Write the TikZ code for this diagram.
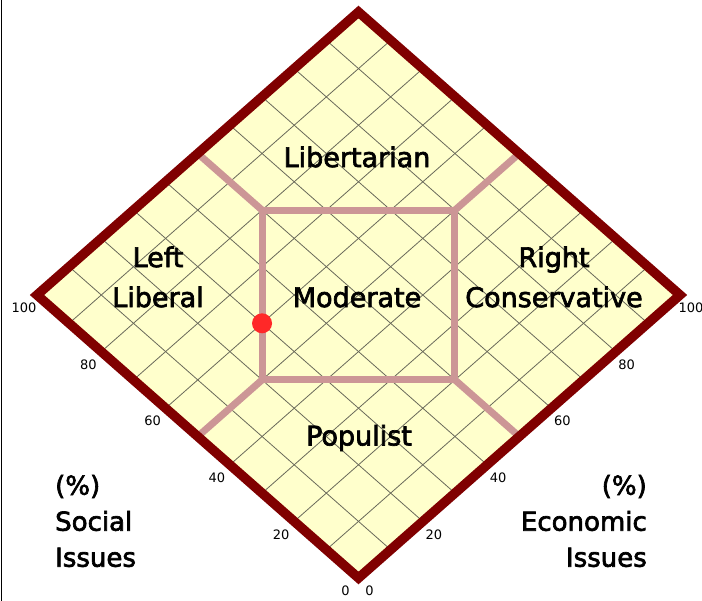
\documentclass[tikz,border=0pt]{standalone}
\usepackage{fontspec}
\setmainfont{DejaVu Sans}
\newfontfamily\heavyfont{DejaVu Sans}[FakeBold=2.5]
\usetikzlibrary{positioning}
\definecolor{chartred}{RGB}{128,0,0}
\definecolor{chartfill}{RGB}{255,255,204}
\definecolor{zoneline}{RGB}{204,150,150}
\definecolor{gridgrey}{RGB}{105,105,90}
\definecolor{dotred}{RGB}{255,40,40}

\begin{document}
\begin{tikzpicture}[x=1pt, y=-1pt,
  region/.style={font=\heavyfont\fontsize{27}{40}\selectfont, align=center, inner sep=0pt},
  axisname/.style={font=\heavyfont\fontsize{26}{36}\selectfont, inner sep=0pt},
  tick/.style={font=\fontsize{13}{14}\selectfont, inner sep=0pt},
  gridline/.style={draw=gridgrey, line width=0.8pt},
  zone/.style={draw=zoneline, line width=7pt},
  rim/.style={draw=chartred, line width=9.5pt, line join=miter}]
  \useasboundingbox (0,0) rectangle (702,601);
  \draw[line width=1.2pt] (1.5,0) -- (1.5,601);
  \begin{scope}[shift={(358.5,578)}, x={(3.215pt,2.83pt)}, y={(-3.215pt,2.83pt)}]
    \coordinate (bot) at (0,0);
    \coordinate (rgt) at (100,0);
    \coordinate (top) at (100,100);
    \coordinate (lft) at (0,100);
    \fill[chartfill] (bot) -- (rgt) -- (top) -- (lft) -- cycle;
    \foreach \k in {10,20,...,90} {
      \draw[gridline] (\k,0) -- (\k,100);
      \draw[gridline] (0,\k) -- (100,\k);
    }
    \coordinate (mw) at (20,50);
    \coordinate (ms) at (50,20);
    \coordinate (me) at (80,50);
    \coordinate (mn) at (50,80);
    \draw[zone] (mw) -- (ms) -- (me) -- (mn) -- cycle;
    \draw[zone] (mn) -- (50,100);
    \draw[zone] (me) -- (100,50);
    \draw[zone] (mw) -- (0,50);
    \draw[zone] (ms) -- (50,0);
    \draw[rim] (bot) -- (rgt) -- (top) -- (lft) -- cycle;
    \node[circle, fill=dotred, minimum size=20pt, inner sep=0pt] (you) at (30,60) {};
    \foreach \t in {0,20,...,100} {
      \node[tick, xshift=-13pt, yshift=-13pt] (sl\t) at (0,\t) {\t};
      \node[tick, xshift=11pt, yshift=-13pt] (el\t) at (\t,0) {\t};
    }
  \end{scope}
  \node[region] (libertarian) at (357,157) {Libertarian};
  \node[region] (leftlib) at (158,277) {Left\\Liberal};
  \node[region] (moderate) at (357,297) {Moderate};
  \node[region] (rightcon) at (554,277) {Right\\Conservative};
  \node[region] (populist) at (359,438) {Populist};
  \node[axisname, align=left, anchor=west] (social) at (55,521) {(\%)\\Social\\Issues};
  \node[axisname, align=right, anchor=east] (economic) at (647,521) {(\%)\\Economic\\Issues};
\end{tikzpicture}
\end{document}
